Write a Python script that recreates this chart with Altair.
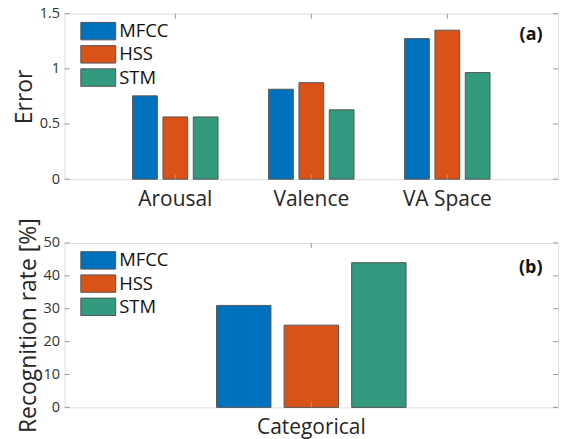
import altair as alt
import pandas as pd

# ---- data ----
categories = ["Arousal", "Valence", "VA Space"]
series = ["MFCC", "HSS", "STM"]
mfcc_err = [0.755, 0.815, 1.274]
hss_err = [0.564, 0.875, 1.35]
stm_err = [0.564, 0.628, 0.966]
err_ticks = [0, 0.5, 1, 1.5]

cat_b = ["Categorical"]
rec_rate = [31, 25, 44]
rec_ticks = [0, 10, 20, 30, 40, 50]

colors = ["#0072BD", "#D95319", "#33997F"]

W = 495
H1 = 166
H2 = 165
FONT = "Open Sans"
AXC = "#9a9a9a"
TL = 5

rows = []
for i, c in enumerate(categories):
    for s, vals in zip(series, [mfcc_err, hss_err, stm_err]):
        rows.append({"cat": c, "series": s, "value": vals[i]})
df_a = pd.DataFrame(rows)
df_b = pd.DataFrame({"cat": cat_b * 3, "series": series, "value": rec_rate})


def legend():
    return alt.Legend(
        orient="none", legendX=24.25, legendY=8, title=None,
        symbolType="M-2,-1H2V1H-2Z", symbolSize=306,
        symbolStrokeColor="#555555", symbolStrokeWidth=1,
        labelFont=FONT, labelFontSize=18.5, labelColor="#111111",
        labelOffset=11.5, rowPadding=0.3, padding=0, symbolOpacity=1,
    )


def panel(df, cats, ticks, ymax, title, title_x, xpad_inner, xpad_outer,
          off_inner, tag, tag_y, H):
    xscale = alt.Scale(domain=cats, paddingInner=xpad_inner, paddingOuter=xpad_outer)
    yscale = alt.Scale(domain=[0, ymax], nice=False, zero=True)
    xaxis = alt.Axis(title=None, labelAngle=0, ticks=False, domain=False,
                     labelFont=FONT, labelFontSize=21, labelColor="#262626",
                     labelPadding=9)
    yaxis = alt.Axis(values=ticks, ticks=False, domain=False, grid=False,
                     labelExpr="'' + datum.value", labelOverlap=False,
                     labelFont=FONT, labelFontSize=14.5, labelColor="#333333",
                     labelPadding=5,
                     title=title, titleFont=FONT, titleFontSize=23,
                     titleFontWeight="normal", titleColor="#262626",
                     titleX=title_x, titleY=H / 2, titleAngle=270,
                     titleAlign="center", titleBaseline="alphabetic")
    bars = alt.Chart(df).mark_bar(stroke="#555555", strokeWidth=1).encode(
        x=alt.X("cat:N", sort=cats, scale=xscale, axis=xaxis),
        xOffset=alt.XOffset("series:N", sort=series,
                            scale=alt.Scale(domain=series, paddingInner=off_inner, paddingOuter=0)),
        y=alt.Y("value:Q", scale=yscale, axis=yaxis),
        color=alt.Color("series:N", sort=series,
                        scale=alt.Scale(domain=series, range=colors), legend=legend()),
    )
    xt = pd.DataFrame({"cat": cats})
    yt = pd.DataFrame({"value": ticks})
    xb = alt.Chart(xt).mark_rule(color=AXC, strokeWidth=1).encode(
        x=alt.X("cat:N", sort=cats, axis=xaxis), y=alt.value(H), y2=alt.value(H - TL))
    xtop = alt.Chart(xt).mark_rule(color=AXC, strokeWidth=1).encode(
        x=alt.X("cat:N", sort=cats, axis=xaxis), y=alt.value(0), y2=alt.value(TL))
    yl = alt.Chart(yt).mark_rule(color=AXC, strokeWidth=1).encode(
        y=alt.Y("value:Q", axis=yaxis), x=alt.value(0), x2=alt.value(TL))
    yr = alt.Chart(yt).mark_rule(color=AXC, strokeWidth=1).encode(
        y=alt.Y("value:Q", axis=yaxis), x=alt.value(W - TL), x2=alt.value(W))
    lab = alt.Chart(pd.DataFrame({"t": [tag]})).mark_text(
        font=FONT, fontSize=18, fontWeight="bold", align="right", baseline="middle",
        color="#111111").encode(text="t:N", x=alt.value(W - 15.5), y=alt.value(tag_y))
    return alt.layer(bars, xb, xtop, yl, yr, lab).properties(width=W, height=H)


top = panel(df_a, categories, err_ticks, 1.5, "Error", -33.1, 0.372, 0.5, 0.186, "(a)", 21, H1)
bot = panel(df_b, cat_b, rec_ticks, 50, "Recognition rate [%]", -29.5, 0.0, 0.802, 0.195, "(b)", 25, H2)

chart = alt.vconcat(top, bot, spacing=7,
                    padding={"left": 4.8, "top": -4, "right": 0, "bottom": 0}).resolve_scale(
    xOffset="independent", color="independent"
).resolve_legend(color="independent").configure_view(
    stroke=AXC, strokeWidth=1).configure(background="white")

chart.save("out.html", embed_options={"renderer": "svg", "actions": False})
